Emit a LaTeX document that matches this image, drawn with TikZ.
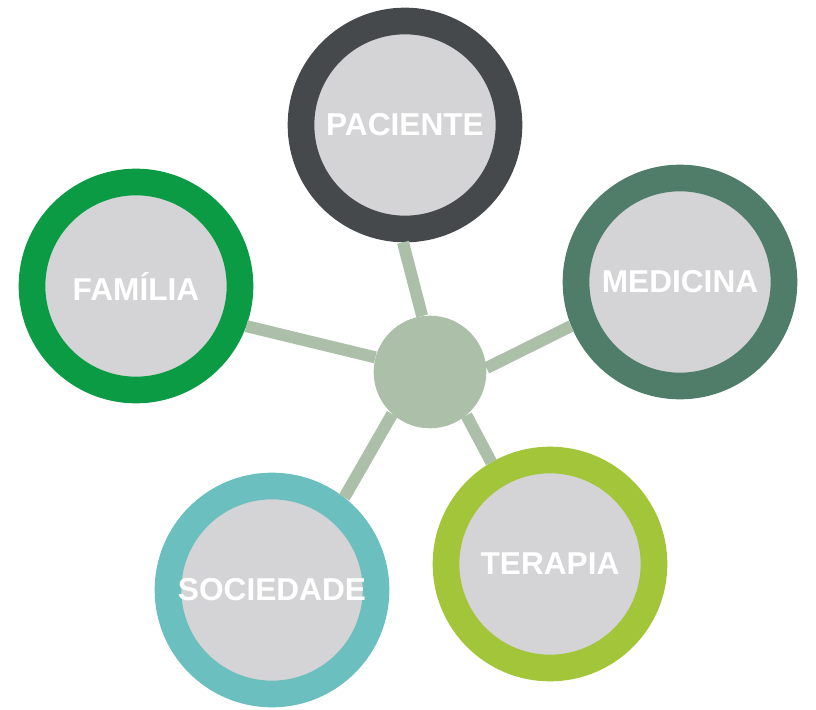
\documentclass[tikz,border=0pt]{standalone}
\usepackage{fontspec}
\setmainfont{Liberation Sans}
\usepackage{xcolor}
\usepackage{tikz}
\usetikzlibrary{calc}
\usetikzlibrary{shapes}
\usetikzlibrary{positioning}
\definecolor{pacgray}{HTML}{46494C}
\definecolor{medgreen}{HTML}{4F7D6A}
\definecolor{famgreen}{HTML}{0B9B45}
\definecolor{tergreen}{HTML}{A2C539}
\definecolor{socteal}{HTML}{6BBFBF}
\definecolor{innergray}{HTML}{D4D3D5}
\definecolor{hubsage}{HTML}{ABBFA9}
\tikzset{x=0.03cm, y=-0.03cm}
\tikzstyle{ring} = [circle, inner sep=0pt, minimum size=6.24cm, line width=0.8cm, fill=innergray, text=white, font=\fontsize{27}{30}\selectfont\bfseries]
\tikzstyle{spoke} = [-, line width=0.36cm, draw=hubsage]

\begin{document}
\begin{tikzpicture}
\useasboundingbox (0,0) rectangle (816,710);
\node [circle, fill=hubsage, inner sep=0pt, minimum size=3.38cm] (hub) at (430, 372) {};
\node [ring, draw=pacgray] (pac) at (405, 125) {PACIENTE};
\node [ring, draw=medgreen] (med) at (680, 282) {MEDICINA};
\node [ring, draw=famgreen] (fam) at (136, 286) {FAMÍLIA};
\node [ring, draw=tergreen] (ter) at (550, 564) {TERAPIA};
\node [ring, draw=socteal] (soc) at (272, 590) {SOCIEDADE};
\draw [spoke] (hub.98) to (pac.269);
\draw [spoke] (hub.4) to (med.202);
\draw [spoke] (hub.165) to (fam.340);
\draw [spoke] (hub.310) to (ter.120);
\draw [spoke] (hub.228) to (soc.52);
\end{tikzpicture}
\end{document}
